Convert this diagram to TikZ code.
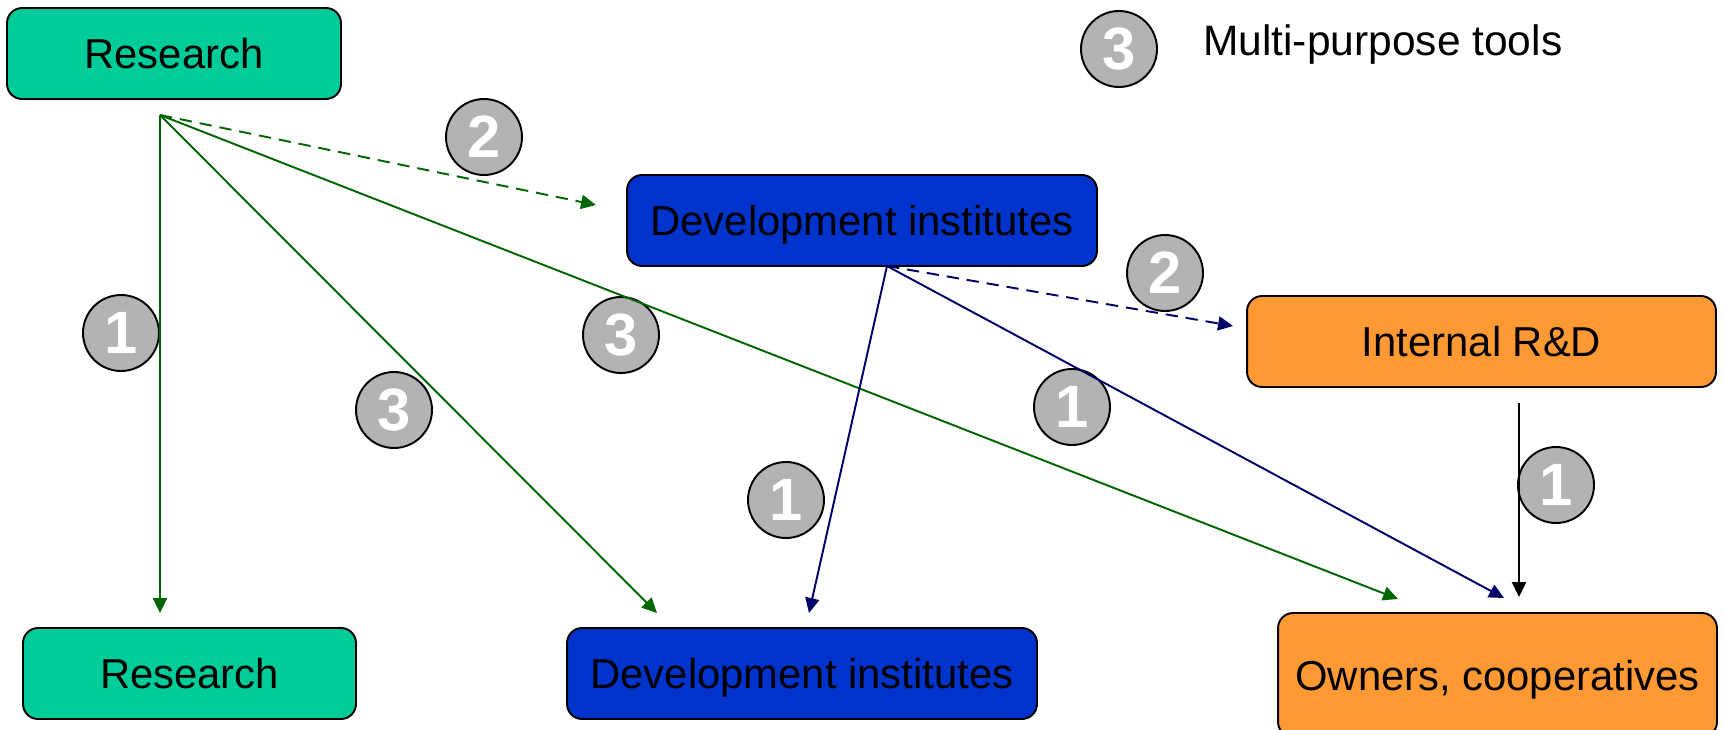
\documentclass[tikz,border=0pt]{standalone}
\usepackage{fontspec}
\setmainfont{Liberation Sans}
\usetikzlibrary{arrows.meta}
\definecolor{resgreen}{HTML}{00CC99}
\definecolor{devblue}{HTML}{0033CC}
\definecolor{orgorange}{HTML}{FF9933}
\definecolor{badgegray}{HTML}{B3B3B3}
\definecolor{flowgreen}{HTML}{006600}
\definecolor{flownavy}{HTML}{000066}
\tikzset{
  box/.style={draw=black, line width=1.1pt, rounded corners=0.3cm, inner sep=0pt,
    minimum height=1.82cm, text height=0.6cm, text depth=0cm,
    font=\fontsize{23.8}{28}\selectfont},
  resbox/.style={box, fill=resgreen},
  devbox/.style={box, fill=devblue},
  orgbox/.style={box, fill=orgorange},
  badge/.style={circle, fill=badgegray, draw=black, line width=1.1pt, minimum size=1.52cm,
    inner sep=0pt, text=white, font=\fontsize{34}{34}\selectfont\bfseries},
  flow/.style={-{Triangle[length=8.5pt,width=8pt]}, line width=1.1pt},
  flowG/.style={flow, draw=flowgreen},
  flowB/.style={flow, draw=flownavy},
  flowK/.style={flow, draw=black},
  hint/.style={dash pattern=on 7pt off 4.5pt},
  legtext/.style={font=\fontsize{24.2}{28}\selectfont}
}
\begin{document}
\begin{tikzpicture}[x=0.02cm, y=-0.02cm]
  \useasboundingbox (0,0) rectangle (1724,730);

  % boxes
  \node[resbox, minimum width=6.68cm] (resTop) at (174,53.5) {Research};
  \node[devbox, minimum width=9.4cm] (devTop) at (862,220.5) {Development institutes};
  \node[orgbox, minimum width=9.38cm] (rnd) at (1481.5,341.5) {Internal R\&D};
  \node[resbox, minimum width=6.66cm] (resBot) at (189.5,673.5) {Research};
  \node[devbox, minimum width=9.4cm] (devBot) at (802,673.5) {Development institutes};
  \node[orgbox, minimum width=8.78cm, minimum height=2.48cm] (owners) at (1497.5,675) {Owners, cooperatives};

  % legend
  \node[badge] (legBadge) at (1119,49) {3};
  \node[legtext, anchor=base west] (legText) at (1197,55) {Multi-purpose tools};

  % tool numbers
  \node[badge] (tagResRes) at (121,333) {1};
  \node[badge] (tagResDevT) at (484,137) {2};
  \node[badge] (tagResDevB) at (394,410) {3};
  \node[badge] (tagResOwn) at (621,335) {3};
  \node[badge] (tagDevDev) at (786,500) {1};
  \node[badge] (tagDevOwn) at (1072,407) {1};
  \node[badge] (tagDevRnd) at (1165,273) {2};
  \node[badge] (tagRndOwn) at (1556,485) {1};

  % start and end points
  \coordinate (resOut) at (160,115);
  \coordinate (devOut) at (887,266);
  \coordinate (rndOut) at (1519,403);
  \coordinate (inResBot) at (160,613);
  \coordinate (inDevTop) at (596,205);
  \coordinate (inDevBotG) at (657,613);
  \coordinate (inDevBotB) at (809,613);
  \coordinate (inRnd) at (1233,326);
  \coordinate (inOwnG) at (1398,599);
  \coordinate (inOwnB) at (1504,598);
  \coordinate (inOwnK) at (1519,597);

  % flows from research
  \draw[flowG] (resOut) -- (inResBot);
  \draw[flowG, hint] (resOut) -- (inDevTop);
  \draw[flowG] (resOut) -- (inDevBotG);
  \draw[flowG] (resOut) -- (inOwnG);

  % flows from development institutes
  \draw[flowB] (devOut) -- (inDevBotB);
  \draw[flowB, hint] (devOut) -- (inRnd);
  \draw[flowB] (devOut) -- (inOwnB);

  % internal R&D
  \draw[flowK] (rndOut) -- (inOwnK);
\end{tikzpicture}
\end{document}
